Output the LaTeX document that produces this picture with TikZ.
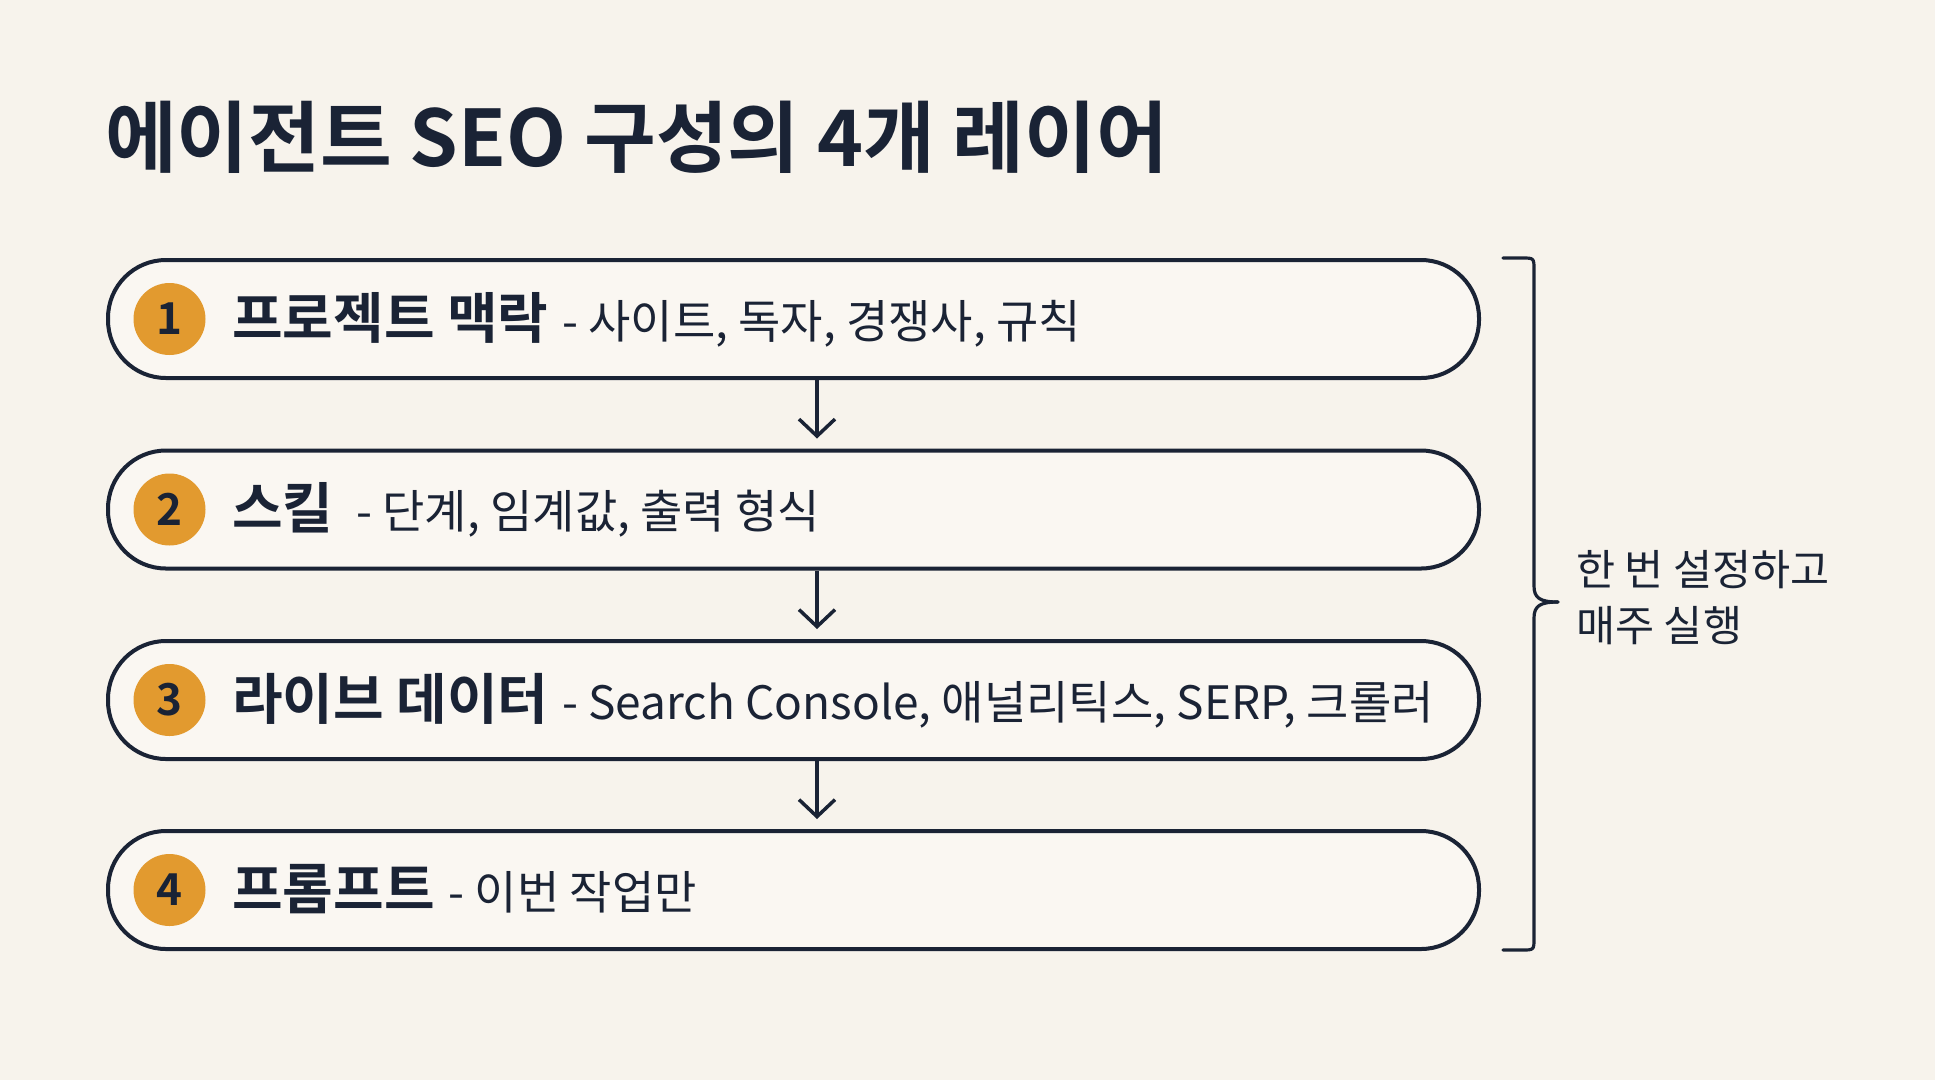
\documentclass[tikz,border=0pt]{standalone}
\usepackage{fontspec}
\setmainfont{Noto Sans CJK KR}[BoldFont={Noto Sans CJK KR Bold}]
\usetikzlibrary{arrows.meta}
\definecolor{bgc}{HTML}{F7F3EC}
\definecolor{pillc}{HTML}{FAF7F2}
\definecolor{navy}{HTML}{1A2335}
\definecolor{orng}{HTML}{E29A2F}
\newcommand\lyrbold{\fontsize{55}{62}\selectfont\bfseries}
\newcommand\lyrreg{\fontsize{46}{54}\selectfont\mdseries}
\begin{document}
\begin{tikzpicture}[x=1pt,y=-1pt,
  pill/.style={draw=navy, line width=4pt, fill=pillc, rounded corners=58pt,
    minimum width=1371pt, minimum height=118pt, inner sep=0pt},
  badge/.style={circle, fill=orng, minimum size=72pt, inner sep=0pt,
    text=navy, font=\fontsize{44}{44}\selectfont\bfseries},
  lbl/.style={anchor=base west, inner sep=0pt, text=navy},
  arr/.style={draw=navy, line width=3.5pt, shorten >=10pt,
    -{Straight Barb[length=17pt,width=36pt,line width=3.5pt]}},
  brace/.style={draw=navy, line width=3.2pt, line cap=round, line join=round}]
\useasboundingbox (0,0) rectangle (1935,1080);
\fill[bgc] (0,0) rectangle (1935,1080);
% title
\node[lbl, font=\fontsize{78}{86}\selectfont\bfseries] (title) at (105,166) {에이전트 SEO 구성의 4개 레이어};
% pills
\node[pill] (p1) at (793.5,319) {};
\node[pill] (p2) at (793.5,509.5) {};
\node[pill] (p3) at (793.5,700) {};
\node[pill] (p4) at (793.5,890) {};
% badges
\node[badge] (b1) at (169.5,319) {1};
\node[badge] (b2) at (169.5,509.5) {2};
\node[badge] (b3) at (169.5,700) {3};
\node[badge] (b4) at (169.5,890) {4};
% labels
\node[lbl] (t1) at (232,338) {\lyrbold 프로젝트 맥락\hspace{14pt}\lyrreg - 사이트, 독자, 경쟁사, 규칙};
\node[lbl] (t2) at (232,528.5) {\lyrbold 스킬\hspace{23pt}\lyrreg - 단계, 임계값, 출력 형식};
\node[lbl] (t3) at (232,719) {\lyrbold 라이브 데이터\hspace{14pt}\lyrreg - Search Console, 애널리틱스, SERP, 크롤러};
\node[lbl] (t4) at (232,909) {\lyrbold 프롬프트\hspace{14pt}\lyrreg - 이번 작업만};
% arrows
\draw[arr] (p1.south -| 817,0) -- (p2.north -| 817,0);
\draw[arr] (p2.south -| 817,0) -- (p3.north -| 817,0);
\draw[arr] (p3.south -| 817,0) -- (p4.north -| 817,0);
% bracket
\coordinate (bt) at (1503,258);
\coordinate (bb) at (1503,950);
\coordinate (btip) at (1558,602);
\draw[brace] (bt) -- (1522,258) .. controls (1534,258) .. (1534,270) -- (1534,586)
  .. controls (1534,598) and (1540,602) .. (btip);
\draw[brace] (bb) -- (1522,950) .. controls (1534,950) .. (1534,938) -- (1534,618)
  .. controls (1534,606) and (1540,602) .. (btip);
% side note
\node[anchor=west, inner sep=0pt, text=navy, align=left,
  font=\fontsize{42.5}{56}\selectfont] (note) at (1576,598) {한 번 설정하고\\매주 실행};
\end{tikzpicture}
\end{document}
